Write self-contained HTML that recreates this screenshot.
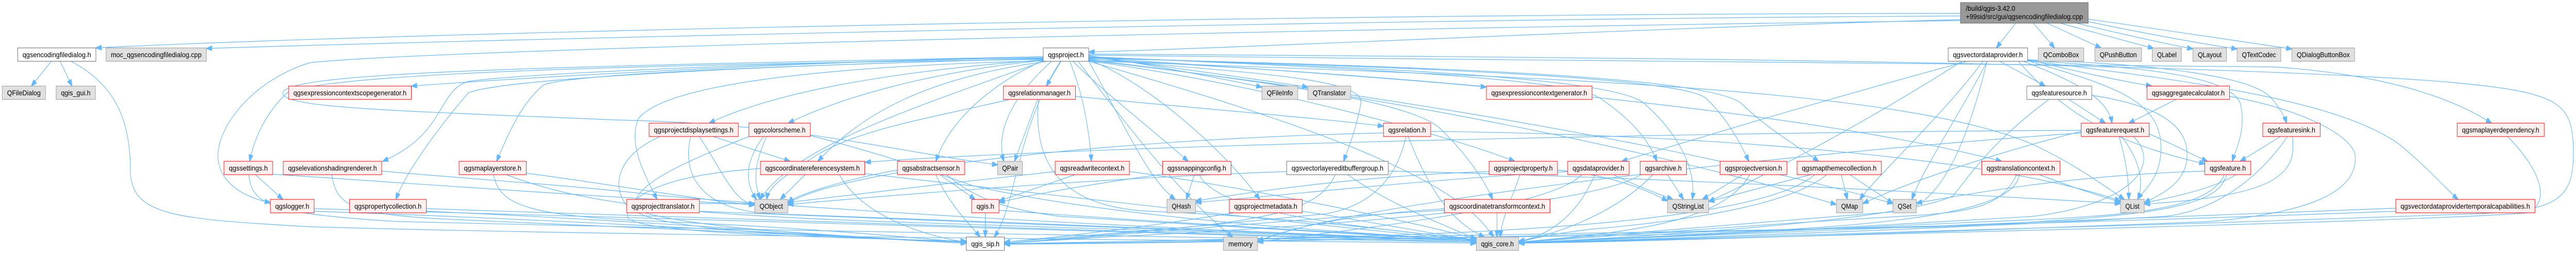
<!DOCTYPE html>
<html><head><meta charset="utf-8"><style>
html,body{margin:0;padding:0;background:#fff;width:100%;height:100%;overflow:hidden;}
svg{display:block;width:100vw;height:100vh;}
.r{fill:#fff0f0;stroke:#ff0000;stroke-width:1}
.g{fill:#e0e0e0;stroke:#999999;stroke-width:1}
.w{fill:#ffffff;stroke:#666666;stroke-width:1}
.root{fill:#999999;stroke:#666666;stroke-width:1}
text{font-family:"Liberation Sans",sans-serif;font-size:14px;fill:#000;}
.e path{fill:none;stroke:#63b8ff;stroke-width:1.2;marker-end:url(#a);}
</style></head><body>
<svg viewBox="0 0 5830 491" preserveAspectRatio="none" xmlns="http://www.w3.org/2000/svg">
<defs><marker id="a" viewBox="0 0 14 10" refX="13" refY="5" markerWidth="14" markerHeight="10" markerUnits="userSpaceOnUse" orient="auto"><path d="M0,0 L14,5 L0,10 z" fill="#63b8ff" stroke="#63b8ff"/></marker></defs>
<rect width="5830" height="491" fill="#fff"/>
<g class="e">
<path d="M4437,26 C3000,26 1000,60 217,93"/>
<path d="M4437,31 C3200,36 1300,72 467,94"/>
<path d="M4437,38 C3800,52 2900,90 2464,101"/>
<path d="M4562,45 L4518,93"/>
<path d="M4602,45 L4650,93"/>
<path d="M4633,45 L4755,93"/>
<path d="M4663,45 L4874,94"/>
<path d="M4700,45 C4820,70 4920,88 4963,95"/>
<path d="M4726,42 C4860,66 4990,86 5063,95"/>
<path d="M4726,37 C4900,58 5090,84 5187,95"/>
<path d="M4437,40 C2600,60 900,100 700,122 C560,160 480,260 495,317 C505,360 560,385 612,393"/>
<path d="M116,119 L71,167"/>
<path d="M136,119 L163,167"/>
<path d="M161,119 C250,160 295,220 295,330 C295,420 400,425 700,440 C1500,460 3000,468 3341,472"/>
<path d="M2361,110 C1800,120 1200,150 931,167"/>
<path d="M2361,112 C1900,118 1200,140 1060,158 C990,175 1010,260 866,313"/>
<path d="M2361,113 C1900,125 1300,140 1230,165 C1180,200 1150,260 1124,313"/>
<path d="M2361,114 C1800,125 1150,150 1060,180 C1000,240 920,330 896,387"/>
<path d="M2361,115 C1500,125 750,140 650,180 C600,220 575,270 565,313"/>
<path d="M2361,116 C2000,140 1750,180 1605,239"/>
<path d="M2361,117 C2100,140 1900,190 1784,239"/>
<path d="M2370,119 C2100,150 1950,220 1851,313"/>
<path d="M2361,118 C1800,130 1500,170 1445,230 C1420,280 1460,340 1487,387"/>
<path d="M2361,119 C2100,200 1800,280 1720,387"/>
<path d="M2362,117 C2250,160 2150,230 2118,313"/>
<path d="M2380,119 C2300,180 2250,250 2272,313"/>
<path d="M2401,119 L2368,167"/>
<path d="M2421,119 C2450,180 2465,250 2470,313"/>
<path d="M2428,119 C2500,180 2620,260 2689,313"/>
<path d="M2464,108 C2600,125 2750,150 2856,169"/>
<path d="M2464,110 C2650,130 2850,155 2960,169"/>
<path d="M2464,112 C2800,130 3200,155 3364,169"/>
<path d="M2464,114 C2800,140 3090,150 3080,200 C3070,250 3050,290 3041,313"/>
<path d="M2464,116 C2600,160 2780,300 2851,387"/>
<path d="M2464,117 C2900,160 3200,200 3260,250 C3320,300 3360,350 3378,387"/>
<path d="M2464,118 C2900,170 3300,270 3428,313"/>
<path d="M2464,110 C3000,130 3550,150 3620,190 C3690,230 3730,270 3750,313"/>
<path d="M2464,111 C3100,130 3650,150 3720,200 C3800,260 3840,330 3830,387"/>
<path d="M2464,112 C3200,130 3800,150 3860,190 C3910,230 3940,280 3958,313"/>
<path d="M2464,113 C3300,130 3860,150 3940,200 C4000,250 4070,285 4116,313"/>
<path d="M2464,115 C3500,160 4200,240 4530,313"/>
<path d="M2464,116 C3300,200 3900,330 4156,397"/>
<path d="M2464,117 C3500,220 4100,350 4284,395"/>
<path d="M2464,118 C3500,150 4300,170 4600,280 C4700,320 4760,360 4808,387"/>
<path d="M2464,107 C3500,120 4800,120 5150,130 C5400,145 5550,190 5639,239"/>
<path d="M2434,187 C2700,210 3000,230 3131,245"/>
<path d="M2464,119 C2550,250 2600,350 2660,387"/>
<path d="M2464,105 C3500,110 5000,120 5550,160 C5800,180 5824,200 5824,300 C5824,390 5780,410 5600,415 C4800,440 3800,465 3437,472"/>
<path d="M2400,119 C2300,250 2300,400 2250,460"/>
<path d="M2440,119 C2600,300 2700,400 2790,460"/>
<path d="M2464,119 C3000,250 3300,350 3380,460"/>
<path d="M2348,193 L2296,313"/>
<path d="M2285,193 C2100,230 1950,250 1850,300 C1780,340 1740,360 1735,387"/>
<path d="M2350,193 C2340,300 2380,400 2600,410 C2900,420 3200,450 3341,468"/>
<path d="M4526,119 L4629,167"/>
<path d="M4580,119 C4700,160 4770,190 4780,239"/>
<path d="M4589,115 C4700,140 4820,160 4870,167"/>
<path d="M4589,118 C4800,170 4900,200 4890,300 C4885,350 4850,370 4838,387"/>
<path d="M4497,119 C4450,200 4350,330 4327,387"/>
<path d="M4488,119 C4400,220 4250,340 4209,387"/>
<path d="M4452,119 C4100,200 3800,280 3670,313"/>
<path d="M4589,117 C4800,130 5040,140 5070,200 C5085,250 5060,290 5052,313"/>
<path d="M4864,260 C4920,280 4960,300 4996,313"/>
<path d="M4589,116 C4900,125 5100,150 5140,190 C5160,210 5170,225 5175,239"/>
<path d="M4589,118 C5000,160 5300,200 5430,280 C5500,330 5540,370 5563,387"/>
<path d="M4497,119 C4460,250 4400,400 4300,410 C4000,430 3600,460 3437,470"/>
<path d="M4440,119 C4200,250 3950,360 3867,391"/>
<path d="M4568,119 C4700,250 4850,290 4990,318"/>
<path d="M4682,193 L4765,239"/>
<path d="M4637,193 C4500,280 4450,350 4420,380 C4300,430 3700,460 3437,472"/>
<path d="M4734,185 C4850,200 4950,230 4950,300 C4950,360 4880,380 4853,394"/>
<path d="M4925,193 L4818,239"/>
<path d="M5046,187 C5200,210 5320,260 5330,300 C5340,380 5200,415 5000,430 C4400,450 3700,470 3437,472"/>
<path d="M4796,265 C4815,320 4818,360 4818,387"/>
<path d="M4802,265 C4850,320 4850,360 4838,387"/>
<path d="M4710,253 C4000,255 2500,280 1958,315"/>
<path d="M4710,255 C4500,300 4300,360 4216,395"/>
<path d="M4829,265 C4900,330 4800,400 4600,420 C4200,440 3700,465 3437,470"/>
<path d="M5161,265 L5070,313"/>
<path d="M5177,265 C5100,360 5000,410 4900,420 C4400,445 3700,465 3437,471"/>
<path d="M5188,265 C5200,340 5150,380 4853,396"/>
<path d="M5675,265 C5740,320 5780,390 5720,413 C5500,430 4000,460 3437,472"/>
<path d="M5422,404 C4800,420 3800,465 3437,471"/>
<path d="M5422,410 C4500,440 3000,470 2273,474"/>
<path d="M5034,339 C5000,410 4800,420 4500,430 C4000,450 3600,465 3437,471"/>
<path d="M5061,339 C5000,370 4900,385 4853,394"/>
<path d="M5039,339 C5020,400 4900,420 4400,440 C3500,460 2600,470 2273,473"/>
<path d="M4990,332 C4700,340 4500,370 4337,394"/>
<path d="M4615,339 C4680,360 4750,380 4799,392"/>
<path d="M4564,339 C4530,400 4470,412 4300,420 C3900,440 3600,462 3437,470"/>
<path d="M4570,339 C4560,410 4300,440 3800,455 C3000,468 2500,472 2273,474"/>
<path d="M4167,339 L4181,387"/>
<path d="M4098,339 C4000,360 3900,385 3867,391"/>
<path d="M4134,339 C4050,400 3800,430 3600,445 C3500,455 3460,465 3437,470"/>
<path d="M4187,339 C4230,365 4260,380 4284,395"/>
<path d="M4107,339 C4000,420 3500,450 3000,460 C2600,468 2400,472 2273,474"/>
<path d="M3944,339 L3853,387"/>
<path d="M3960,339 C3900,430 3700,450 3437,470"/>
<path d="M3774,339 L3810,387"/>
<path d="M3741,339 C3650,420 3500,460 3437,468"/>
<path d="M3714,339 C3600,400 3000,440 2500,460 C2400,466 2300,470 2273,473"/>
<path d="M3652,339 C3700,360 3750,375 3786,387"/>
<path d="M3609,339 C3570,420 3500,460 3437,468"/>
<path d="M3580,339 C3500,410 3000,450 2846,470"/>
<path d="M3548,333 C3200,350 2900,380 2706,393"/>
<path d="M3525,330 C3650,340 3730,370 3774,390"/>
<path d="M3440,339 C3420,390 3400,420 3395,460"/>
<path d="M3370,333 C3100,340 2850,370 2706,390"/>
<path d="M3388,413 L3388,460"/>
<path d="M3269,408 C3000,420 2500,460 2273,472"/>
<path d="M2947,410 C3100,430 3250,455 3341,466"/>
<path d="M2800,412 C2600,440 2400,460 2273,470"/>
<path d="M3187,265 C3230,360 3280,430 3360,460"/>
<path d="M3182,265 C3160,350 3100,400 3000,415 C2700,440 2400,465 2273,472"/>
<path d="M3131,258 C2500,270 1900,330 1783,395"/>
<path d="M3238,255 C3800,260 4500,300 4799,390"/>
<path d="M3022,339 C2990,400 2900,420 2700,440 C2500,455 2350,465 2273,470"/>
<path d="M3050,339 C3150,400 3280,440 3341,464"/>
<path d="M2912,333 C2500,345 2000,380 1783,397"/>
<path d="M3142,332 C3800,345 4500,380 4799,395"/>
<path d="M2703,339 L2685,387"/>
<path d="M2714,339 C2760,420 3100,440 3341,466"/>
<path d="M2631,338 C2450,360 2320,380 2261,393"/>
<path d="M2433,339 L2261,390"/>
<path d="M2556,333 C2800,360 3200,430 3341,464"/>
<path d="M2388,333 C2200,350 1900,380 1783,393"/>
<path d="M2127,339 L2207,387"/>
<path d="M2118,339 C2150,400 2200,440 2218,460"/>
<path d="M2142,339 C2200,380 2260,405 2400,420 C2800,440 3200,460 3341,468"/>
<path d="M2031,330 C1900,350 1800,380 1783,393"/>
<path d="M2230,412 L2230,460"/>
<path d="M2261,408 C2600,430 3100,455 3341,466"/>
<path d="M1822,339 L1766,387"/>
<path d="M1958,337 C2400,380 3000,440 3341,467"/>
<path d="M1900,339 C1950,420 2100,460 2187,470"/>
<path d="M1721,327 C1500,340 1420,380 1420,420 C1420,450 1800,460 2187,468"/>
<path d="M1728,265 C1680,320 1690,360 1712,387"/>
<path d="M1735,265 C1700,330 1710,360 1720,387"/>
<path d="M1834,263 C2000,300 2100,330 2200,360 C2500,420 3000,450 3341,466"/>
<path d="M1695,265 C1500,330 1420,370 1440,410 C1500,450 1900,460 2187,470"/>
<path d="M1614,265 L1788,313"/>
<path d="M1583,265 C1640,340 1660,390 1708,398"/>
<path d="M1563,265 C1540,350 1600,410 1750,415 C2300,430 3000,460 3341,468"/>
<path d="M1494,265 C1400,300 1380,360 1420,400 C1500,440 1900,460 2187,472"/>
<path d="M1583,410 C2200,430 3000,460 3341,468"/>
<path d="M1583,395 L1708,395"/>
<path d="M1191,336 C1400,360 1600,390 1708,398"/>
<path d="M1146,339 C1300,390 1500,415 2000,430 C2600,445 3100,460 3341,468"/>
<path d="M1117,339 C1130,400 1200,420 1500,430 C1900,445 2100,465 2187,470"/>
<path d="M864,332 C1100,350 1300,360 1500,380 C2200,430 3000,455 3341,468"/>
<path d="M751,339 C760,400 800,415 1000,425 C1600,445 2000,465 2187,470"/>
<path d="M965,405 C1600,420 2800,460 3341,470"/>
<path d="M965,410 C1500,430 2000,465 2187,472"/>
<path d="M578,339 L640,387"/>
<path d="M563,339 C570,400 620,415 900,430 C1800,450 3000,465 3341,470"/>
<path d="M617,338 C1000,360 1400,385 1708,397"/>
<path d="M711,405 C1500,420 2800,462 3341,470"/>
<path d="M711,410 C1400,430 2000,465 2187,472"/>
<path d="M3269,405 C3000,420 2900,450 2846,468"/>
<path d="M4710,258 C4000,300 3000,400 2846,470"/>
<path d="M2361,110 C1200,130 650,140 640,180 C635,210 900,215 1400,233 C1800,240 2000,290 2258,320"/>
</g>
<g>
<rect class="root" x="4437" y="5" width="289" height="40"/>
<text x="4449" y="21" textLength="112" lengthAdjust="spacingAndGlyphs">/build/qgis-3.42.0</text>
<text x="4449" y="37" textLength="265" lengthAdjust="spacingAndGlyphs">+99sid/src/gui/qgsencodingfiledialog.cpp</text>

<rect class="w" x="40" y="93" width="177" height="26"/><text x="128.5" y="111" text-anchor="middle" textLength="155" lengthAdjust="spacingAndGlyphs">qgsencodingfiledialog.h</text>
<rect class="g" x="240" y="93" width="227" height="26"/><text x="353.5" y="111" text-anchor="middle" textLength="205" lengthAdjust="spacingAndGlyphs">moc_qgsencodingfiledialog.cpp</text>
<rect class="w" x="2361" y="93" width="103" height="26"/><text x="2412.5" y="111" text-anchor="middle" textLength="81" lengthAdjust="spacingAndGlyphs">qgsproject.h</text>
<rect class="w" x="4409" y="93" width="180" height="26"/><text x="4499" y="111" text-anchor="middle" textLength="158" lengthAdjust="spacingAndGlyphs">qgsvectordataprovider.h</text>
<rect class="g" x="4613" y="93" width="103" height="26"/><text x="4664.5" y="111" text-anchor="middle" textLength="81" lengthAdjust="spacingAndGlyphs">QComboBox</text>
<rect class="g" x="4741" y="93" width="106" height="26"/><text x="4794" y="111" text-anchor="middle" textLength="84" lengthAdjust="spacingAndGlyphs">QPushButton</text>
<rect class="g" x="4871" y="93" width="66" height="26"/><text x="4904" y="111" text-anchor="middle" textLength="44" lengthAdjust="spacingAndGlyphs">QLabel</text>
<rect class="g" x="4963" y="93" width="76" height="26"/><text x="5001" y="111" text-anchor="middle" textLength="54" lengthAdjust="spacingAndGlyphs">QLayout</text>
<rect class="g" x="5063" y="93" width="99" height="26"/><text x="5112.5" y="111" text-anchor="middle" textLength="77" lengthAdjust="spacingAndGlyphs">QTextCodec</text>
<rect class="g" x="5187" y="93" width="142" height="26"/><text x="5258" y="111" text-anchor="middle" textLength="120" lengthAdjust="spacingAndGlyphs">QDialogButtonBox</text>

<rect class="g" x="5" y="167" width="98" height="26"/><text x="54" y="185" text-anchor="middle" textLength="76" lengthAdjust="spacingAndGlyphs">QFileDialog</text>
<rect class="g" x="127" y="167" width="89" height="26"/><text x="171.5" y="185" text-anchor="middle" textLength="67" lengthAdjust="spacingAndGlyphs">qgis_gui.h</text>
<rect class="r" x="653" y="167" width="278" height="26"/><text x="792" y="185" text-anchor="middle" textLength="256" lengthAdjust="spacingAndGlyphs">qgsexpressioncontextscopegenerator.h</text>
<rect class="r" x="2271" y="167" width="163" height="26"/><text x="2352.5" y="185" text-anchor="middle" textLength="141" lengthAdjust="spacingAndGlyphs">qgsrelationmanager.h</text>
<rect class="g" x="2856" y="167" width="81" height="26"/><text x="2896.5" y="185" text-anchor="middle" textLength="59" lengthAdjust="spacingAndGlyphs">QFileInfo</text>
<rect class="g" x="2960" y="167" width="97" height="26"/><text x="3008.5" y="185" text-anchor="middle" textLength="75" lengthAdjust="spacingAndGlyphs">QTranslator</text>
<rect class="r" x="3364" y="167" width="239" height="26"/><text x="3483.5" y="185" text-anchor="middle" textLength="217" lengthAdjust="spacingAndGlyphs">qgsexpressioncontextgenerator.h</text>
<rect class="w" x="4587" y="167" width="147" height="26"/><text x="4660.5" y="185" text-anchor="middle" textLength="125" lengthAdjust="spacingAndGlyphs">qgsfeaturesource.h</text>
<rect class="r" x="4859" y="167" width="187" height="26"/><text x="4952.5" y="185" text-anchor="middle" textLength="165" lengthAdjust="spacingAndGlyphs">qgsaggregatecalculator.h</text>

<rect class="r" x="1469" y="239" width="202" height="26"/><text x="1570" y="257" text-anchor="middle" textLength="180" lengthAdjust="spacingAndGlyphs">qgsprojectdisplaysettings.h</text>
<rect class="r" x="1695" y="239" width="139" height="26"/><text x="1764.5" y="257" text-anchor="middle" textLength="117" lengthAdjust="spacingAndGlyphs">qgscolorscheme.h</text>
<rect class="r" x="3131" y="239" width="107" height="26"/><text x="3184.5" y="257" text-anchor="middle" textLength="85" lengthAdjust="spacingAndGlyphs">qgsrelation.h</text>
<rect class="r" x="4710" y="239" width="154" height="26"/><text x="4787" y="257" text-anchor="middle" textLength="132" lengthAdjust="spacingAndGlyphs">qgsfeaturerequest.h</text>
<rect class="r" x="5121" y="239" width="130" height="26"/><text x="5186" y="257" text-anchor="middle" textLength="108" lengthAdjust="spacingAndGlyphs">qgsfeaturesink.h</text>
<rect class="r" x="5561" y="239" width="197" height="26"/><text x="5659.5" y="257" text-anchor="middle" textLength="175" lengthAdjust="spacingAndGlyphs">qgsmaplayerdependency.h</text>

<rect class="r" x="507" y="313" width="110" height="26"/><text x="562" y="331" text-anchor="middle" textLength="88" lengthAdjust="spacingAndGlyphs">qgssettings.h</text>
<rect class="r" x="641" y="313" width="223" height="26"/><text x="752.5" y="331" text-anchor="middle" textLength="201" lengthAdjust="spacingAndGlyphs">qgselevationshadingrenderer.h</text>
<rect class="r" x="1039" y="313" width="152" height="26"/><text x="1115" y="331" text-anchor="middle" textLength="130" lengthAdjust="spacingAndGlyphs">qgsmaplayerstore.h</text>
<rect class="r" x="1721" y="313" width="236" height="26"/><text x="1839" y="331" text-anchor="middle" textLength="214" lengthAdjust="spacingAndGlyphs">qgscoordinatereferencesystem.h</text>
<rect class="r" x="2031" y="313" width="152" height="26"/><text x="2107" y="331" text-anchor="middle" textLength="130" lengthAdjust="spacingAndGlyphs">qgsabstractsensor.h</text>
<rect class="g" x="2258" y="313" width="56" height="26"/><text x="2286" y="331" text-anchor="middle" textLength="36" lengthAdjust="spacingAndGlyphs">QPair</text>
<rect class="r" x="2388" y="313" width="168" height="26"/><text x="2472" y="331" text-anchor="middle" textLength="146" lengthAdjust="spacingAndGlyphs">qgsreadwritecontext.h</text>
<rect class="r" x="2631" y="313" width="155" height="26"/><text x="2708.5" y="331" text-anchor="middle" textLength="133" lengthAdjust="spacingAndGlyphs">qgssnappingconfig.h</text>
<rect class="w" x="2912" y="313" width="230" height="26"/><text x="3027" y="331" text-anchor="middle" textLength="208" lengthAdjust="spacingAndGlyphs">qgsvectorlayereditbuffergroup.h</text>
<rect class="r" x="3370" y="313" width="155" height="26"/><text x="3447.5" y="331" text-anchor="middle" textLength="133" lengthAdjust="spacingAndGlyphs">qgsprojectproperty.h</text>
<rect class="r" x="3548" y="313" width="139" height="26"/><text x="3617.5" y="331" text-anchor="middle" textLength="117" lengthAdjust="spacingAndGlyphs">qgsdataprovider.h</text>
<rect class="r" x="3712" y="313" width="105" height="26"/><text x="3764.5" y="331" text-anchor="middle" textLength="83" lengthAdjust="spacingAndGlyphs">qgsarchive.h</text>
<rect class="r" x="3893" y="313" width="151" height="26"/><text x="3968.5" y="331" text-anchor="middle" textLength="129" lengthAdjust="spacingAndGlyphs">qgsprojectversion.h</text>
<rect class="r" x="4067" y="313" width="191" height="26"/><text x="4162.5" y="331" text-anchor="middle" textLength="169" lengthAdjust="spacingAndGlyphs">qgsmapthemecollection.h</text>
<rect class="r" x="4485" y="313" width="177" height="26"/><text x="4573.5" y="331" text-anchor="middle" textLength="155" lengthAdjust="spacingAndGlyphs">qgstranslationcontext.h</text>
<rect class="r" x="4990" y="313" width="104" height="26"/><text x="5042" y="331" text-anchor="middle" textLength="82" lengthAdjust="spacingAndGlyphs">qgsfeature.h</text>

<rect class="r" x="612" y="387" width="99" height="26"/><text x="661.5" y="405" text-anchor="middle" textLength="77" lengthAdjust="spacingAndGlyphs">qgslogger.h</text>
<rect class="r" x="791" y="387" width="174" height="26"/><text x="878" y="405" text-anchor="middle" textLength="152" lengthAdjust="spacingAndGlyphs">qgspropertycollection.h</text>
<rect class="r" x="1418" y="387" width="165" height="26"/><text x="1500.5" y="405" text-anchor="middle" textLength="143" lengthAdjust="spacingAndGlyphs">qgsprojecttranslator.h</text>
<rect class="g" x="1708" y="387" width="75" height="26"/><text x="1745.5" y="405" text-anchor="middle" textLength="53" lengthAdjust="spacingAndGlyphs">QObject</text>
<rect class="r" x="2199" y="387" width="62" height="26"/><text x="2230" y="405" text-anchor="middle" textLength="40" lengthAdjust="spacingAndGlyphs">qgis.h</text>
<rect class="g" x="2641" y="387" width="65" height="26"/><text x="2673.5" y="405" text-anchor="middle" textLength="43" lengthAdjust="spacingAndGlyphs">QHash</text>
<rect class="r" x="2782" y="387" width="165" height="26"/><text x="2864.5" y="405" text-anchor="middle" textLength="143" lengthAdjust="spacingAndGlyphs">qgsprojectmetadata.h</text>
<rect class="r" x="3269" y="387" width="239" height="26"/><text x="3388.5" y="405" text-anchor="middle" textLength="217" lengthAdjust="spacingAndGlyphs">qgscoordinatetransformcontext.h</text>
<rect class="g" x="3774" y="387" width="93" height="26"/><text x="3820.5" y="405" text-anchor="middle" textLength="71" lengthAdjust="spacingAndGlyphs">QStringList</text>
<rect class="g" x="4156" y="387" width="60" height="26"/><text x="4186" y="405" text-anchor="middle" textLength="38" lengthAdjust="spacingAndGlyphs">QMap</text>
<rect class="g" x="4284" y="387" width="53" height="26"/><text x="4310.5" y="405" text-anchor="middle" textLength="31" lengthAdjust="spacingAndGlyphs">QSet</text>
<rect class="g" x="4799" y="387" width="54" height="26"/><text x="4826" y="405" text-anchor="middle" textLength="32" lengthAdjust="spacingAndGlyphs">QList</text>
<rect class="r" x="5422" y="387" width="315" height="26"/><text x="5579.5" y="405" text-anchor="middle" textLength="293" lengthAdjust="spacingAndGlyphs">qgsvectordataprovidertemporalcapabilities.h</text>

<rect class="w" x="2187" y="460" width="86" height="26"/><text x="2230" y="478" text-anchor="middle" textLength="64" lengthAdjust="spacingAndGlyphs">qgis_sip.h</text>
<rect class="g" x="2769" y="460" width="77" height="26"/><text x="2807.5" y="478" text-anchor="middle" textLength="55" lengthAdjust="spacingAndGlyphs">memory</text>
<rect class="g" x="3341" y="460" width="96" height="26"/><text x="3389" y="478" text-anchor="middle" textLength="74" lengthAdjust="spacingAndGlyphs">qgis_core.h</text>
</g>
</svg>
</body></html>
